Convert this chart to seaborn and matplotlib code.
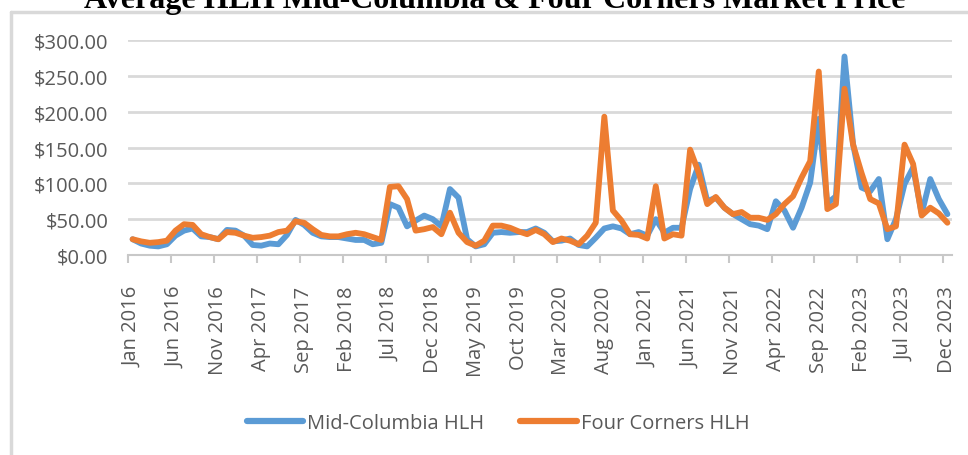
import numpy as np
import pandas as pd
import matplotlib
matplotlib.use("Agg")
import matplotlib.pyplot as plt
from matplotlib.lines import Line2D
from matplotlib.ticker import FuncFormatter
import seaborn as sns

# Monthly average heavy-load-hour prices, Jan 2016 - Dec 2023 ($/MWh)
start_month = "2016-01"
n_months = 96

mid_columbia = [
    22, 16, 13, 12, 15, 27, 34, 37, 26, 25, 22, 35,
    34, 27, 14, 13, 16, 15, 28, 49, 42, 31, 26, 25,
    25, 23, 21, 21, 15, 17, 71, 66, 40, 48, 55, 50,
    40, 92, 80, 22, 12, 15, 31, 32, 31, 32, 32, 37,
    31, 19, 20, 23, 14, 12, 24, 37, 40, 37, 29, 32,
    27, 50, 31, 38, 38, 92, 126, 75, 80, 66, 57, 50,
    43, 41, 36, 75, 62, 38, 66, 101, 190, 72, 82, 277,
    155, 94, 89, 106, 22, 50, 99, 122, 58, 106, 78, 57,
]

four_corners = [
    22, 19, 17, 18, 20, 34, 43, 42, 29, 25, 22, 32,
    31, 27, 24, 25, 27, 32, 34, 47, 45, 36, 28, 26,
    26, 29, 31, 29, 25, 21, 95, 96, 78, 34, 36, 39,
    29, 59, 31, 18, 13, 20, 41, 41, 38, 33, 29, 35,
    29, 18, 23, 20, 15, 27, 45, 193, 62, 48, 29, 28,
    23, 96, 23, 29, 27, 147, 115, 71, 81, 66, 57, 60,
    52, 52, 49, 57, 71, 82, 108, 131, 256, 64, 71, 232,
    154, 114, 78, 72, 36, 40, 154, 127, 55, 66, 58, 45,
]

series_names = ["Mid-Columbia HLH", "Four Corners HLH"]
series_colors = ["#5B9BD5", "#ED7D31"]
title_text = "Average HLH Mid-Columbia & Four Corners Market Price"
y_ticks = [0, 50, 100, 150, 200, 250, 300]
label_step = 5

months = pd.date_range(start_month, periods=n_months, freq="MS")
month_labels = [d.strftime("%b %Y") for d in months]

df = pd.DataFrame({
    "month": np.tile(np.arange(n_months), 2),
    "price": mid_columbia + four_corners,
    "series": np.repeat(series_names, n_months),
})

sns.set_theme(style="white")
plt.rcParams["font.family"] = ["Open Sans", "DejaVu Sans"]
text_gray = "#595959"
axis_gray = "#c8c8c8"
grid_gray = "#d9d9d9"
label_size = 14.5

W, H = 968, 456
fig = plt.figure(figsize=(W / 100, H / 100), dpi=100)
fig.patch.set_facecolor("white")
ax = fig.add_axes([128.3 / W, (H - 256) / H, (951.7 - 128.3) / W, 215 / H])

ax.yaxis.grid(True, color=grid_gray, linewidth=2)
ax.set_axisbelow(True)

sns.lineplot(
    data=df, x="month", y="price", hue="series", hue_order=series_names,
    palette=series_colors, linewidth=4.2, solid_capstyle="round",
    solid_joinstyle="round", ax=ax, legend=False,
)

ax.set_xlim(-0.5, n_months - 0.5)
ax.set_ylim(0, 300)
ax.set_yticks(y_ticks)
ax.yaxis.set_major_formatter(FuncFormatter(lambda v, p: f"${v:,.2f}"))

ax.set_xticks(np.arange(0, n_months, label_step))
ax.set_xticklabels(month_labels[::label_step], rotation=90)
ax.set_xticks(np.arange(-0.5, n_months - 1, label_step), minor=True)
ax.tick_params(axis="x", which="major", length=0, pad=22, labelsize=label_size,
               labelcolor=text_gray)
ax.tick_params(axis="x", which="minor", length=6, width=1.5, color=axis_gray,
               direction="out", bottom=True)
ax.tick_params(axis="y", length=0, pad=14.5, labelsize=label_size, labelcolor=text_gray)

for side in ["top", "right", "left"]:
    ax.spines[side].set_visible(False)
ax.spines["bottom"].set_color(axis_gray)
ax.spines["bottom"].set_linewidth(1.5)
ax.set_xlabel("")
ax.set_ylabel("")

handles = [Line2D([0], [0], color=c, lw=4.5, solid_capstyle="round") for c in series_colors]
fig.legend(
    handles=handles, labels=series_names, loc="center",
    bbox_to_anchor=(498 / W, 1 - 424 / H), ncol=2, frameon=False,
    handlelength=2.8, handletextpad=0.2, columnspacing=1.8,
    fontsize=label_size, labelcolor=text_gray,
)

# chart-area border (left and top edges)
fig.add_artist(Line2D([11 / W, 11 / W], [0, 1 - 12.7 / H], transform=fig.transFigure,
                      color=grid_gray, lw=2.5))
fig.add_artist(Line2D([11 / W, 1], [1 - 12.7 / H, 1 - 12.7 / H], transform=fig.transFigure,
                      color=grid_gray, lw=2.5))

fig.text(495 / W, 1 - 8 / H, title_text, ha="center", va="baseline", fontsize=23,
         fontweight="bold", family=["Liberation Serif", "DejaVu Serif"], color="black")

fig.savefig("out.png", dpi=100, facecolor="white")
